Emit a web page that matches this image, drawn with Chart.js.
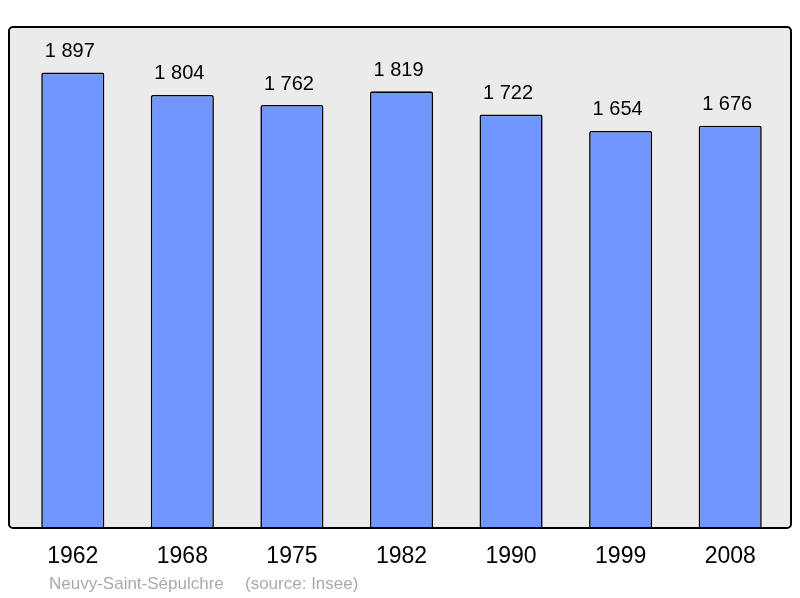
<!DOCTYPE html>
<html>
<head>
<meta charset="utf-8">
<script src="https://cdn.jsdelivr.net/npm/chart.js@4"></script>
<style>
  html, body { margin: 0; padding: 0; background: #fff; }
  #wrap { width: 800px; height: 598px; }
</style>
</head>
<body>
<div id="wrap"><canvas id="chart" width="800" height="598"></canvas></div>
<script>
const years = ['1962', '1968', '1975', '1982', '1990', '1999', '2008'];
const population = [1897, 1804, 1762, 1819, 1722, 1654, 1676];
const townName = 'Neuvy-Saint-Sépulchre';
const sourceNote = '(source: Insee)';

// thousands separated by a space, French style
const fmt = v => String(v).replace(/\B(?=(\d{3})+(?!\d))/g, ' ');

const frame = {
  id: 'frame',
  beforeDatasetsDraw(chart) {
    const { ctx, chartArea: a } = chart;
    ctx.save();
    ctx.fillStyle = '#ebebeb';
    ctx.beginPath();
    ctx.roundRect(9, a.top, 782, a.bottom - a.top, 4);
    ctx.fill();
    ctx.restore();
  },
  afterDatasetsDraw(chart) {
    const { ctx, chartArea: a } = chart;
    ctx.save();
    ctx.strokeStyle = '#000';
    ctx.lineWidth = 2;
    ctx.beginPath();
    ctx.roundRect(9, a.top, 782, a.bottom - a.top, 4);
    ctx.stroke();

    // values above bars
    ctx.fillStyle = '#000';
    ctx.font = '20px "Liberation Sans", Arial, sans-serif';
    ctx.textAlign = 'center';
    ctx.textBaseline = 'middle';
    chart.getDatasetMeta(0).data.forEach((bar, i) => {
      ctx.fillText(fmt(population[i]), bar.x - 3, bar.y - 21);
    });

    ctx.fillStyle = '#aaaaaa';
    ctx.font = '17px "Liberation Sans", Arial, sans-serif';
    ctx.textAlign = 'left';
    ctx.fillText(townName, 49, 584);
    ctx.fillText(sourceNote, 245, 584);
    ctx.restore();
  }
};

new Chart(document.getElementById('chart'), {
  type: 'bar',
  data: {
    labels: years,
    datasets: [{
      data: population,
      backgroundColor: '#7096ff',
      borderColor: '#000',
      borderWidth: 1.6,
      borderRadius: 2,
      borderSkipped: 'bottom',
      barPercentage: 0.576,
      categoryPercentage: 1
    }]
  },
  options: {
    responsive: false,
    animation: false,
    layout: { padding: { left: 18, right: 15, top: 27, bottom: 0 } },
    plugins: { legend: { display: false }, tooltip: { enabled: false } },
    scales: {
      x: {
        grid: { display: false, drawTicks: false },
        border: { display: false },
        ticks: {
          color: '#000',
          padding: 15,
          font: { family: '"Liberation Sans", Arial, sans-serif', size: 23 }
        },
        afterFit: s => { s.height = 70; }
      },
      y: {
        display: false,
        min: 0,
        max: 2087
      }
    }
  },
  plugins: [frame]
});
</script>
</body>
</html>
